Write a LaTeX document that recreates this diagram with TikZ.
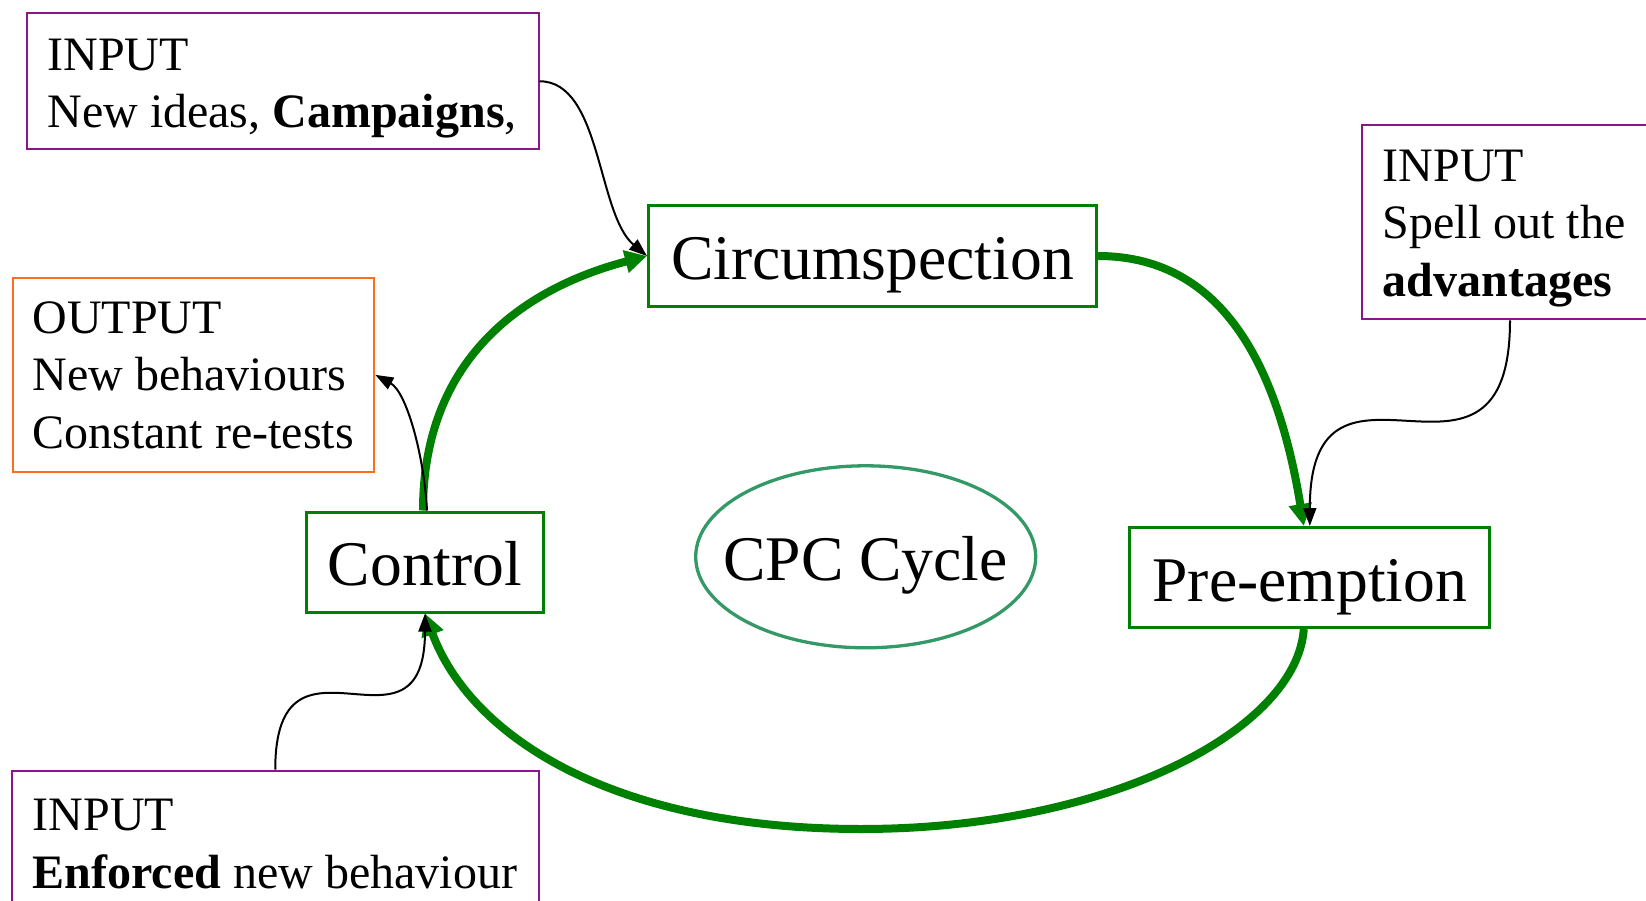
\documentclass[tikz,border=0pt]{standalone}
\usepackage{fontspec}
\setmainfont{Liberation Serif}
\usetikzlibrary{arrows.meta,shapes.geometric}
\definecolor{cycgreen}{RGB}{0,128,0}
\definecolor{ovalgreen}{RGB}{51,153,102}
\definecolor{inpurple}{RGB}{140,20,140}
\definecolor{outorange}{RGB}{255,110,30}
\newcommand\stagefont{\fontsize{63.6}{76}\selectfont}
\newcommand\notefont{\fontsize{48}{57.5}\selectfont}

\begin{document}
\begin{tikzpicture}[x=1pt,y=-1pt,
  stage/.style={draw=cycgreen, line width=3pt, inner sep=0pt, anchor=north west,
    font=\stagefont, text height=73.5pt, text depth=26.5pt},
  inbox/.style={draw=inpurple, line width=2pt, inner sep=0pt, anchor=north west},
  outbox/.style={draw=outorange, line width=2pt, inner sep=0pt, anchor=north west},
  note/.style={font=\notefont, align=left, inner sep=0pt, anchor=north west},
  oval/.style={draw=ovalgreen, line width=3.3pt, ellipse, inner sep=0pt,
    minimum width=340pt, minimum height=182pt},
  cycle/.style={draw=cycgreen, line width=8pt, -{Triangle[length=22pt,width=22pt]}},
  feed/.style={draw=black, line width=2pt, -{Triangle[length=18pt,width=13pt]}}]

\useasboundingbox (0,0) rectangle (1646,901);
\clip (0,0) rectangle (1646,901);

% the three stages of the cycle
\node[stage, minimum width=448pt] (circ) at (647,204.5) {Circumspection};
\node[stage, minimum width=237pt] (ctrl) at (305,510.5) {Control};
\node[stage, minimum width=360pt] (pre) at (1128.3,526) {Pre-emption};

% centre label
\node[oval] (cpc) at (865.7,556.8) {};
\node[font=\stagefont, inner sep=0pt, anchor=base] (cpctxt) at (865.5,580.5) {CPC Cycle};

% input and output notes
\node[inbox, minimum width=511.5pt, minimum height=135.5pt] (in1) at (26,12.5) {};
\node[note] (in1txt) at (47.2,38.6) {INPUT\\New ideas, \textbf{Campaigns},};

\node[outbox, minimum width=361.6pt, minimum height=194.3pt] (out) at (11.7,276.7) {};
\node[note] (outtxt) at (32.3,301.5) {OUTPUT\\New behaviours\\Constant re-tests};

\node[inbox, minimum width=296pt, minimum height=194.3pt] (inR) at (1361,124) {};
\node[note] (inRtxt) at (1382.7,149.6) {INPUT\\Spell out the\\\textbf{advantages}};

\node[inbox, minimum width=526.5pt, minimum height=160pt] (inB) at (11,769.5) {};
\node[note] (inBtxt) at (32.5,799) {INPUT\\\textbf{Enforced} new behaviour};

% the cycle itself
\coordinate (loopbot) at (861,829);
\draw[cycle] ([xshift=-2pt]ctrl.north) .. controls +(0,-150) and +(-126,33) .. (circ.west);
\draw[cycle] (circ.east) .. controls +(130,0) and +(-24.5,-149.7) .. ([xshift=-6pt]pre.north);
\draw[cycle] ([xshift=-6pt]pre.south) .. controls +(-7,100) and +(250,0) .. (loopbot)
  .. controls +(-250,0) and +(45,122) .. (ctrl.south);

% feeds into and out of the cycle
\draw[feed] (in1.east) .. controls +(62,0) and +(-50,-42) .. (circ.west);
\draw[feed] (inR.south) .. controls +(0,208) and +(0,-208) .. (pre.north);
\draw[feed] (inB.north) .. controls +(0,-159) and +(0,159) .. (ctrl.south);
\draw[feed] ([xshift=2pt]ctrl.north) .. controls +(-3,-56) and +(31,17) .. (out.east);

\end{tikzpicture}
\end{document}
